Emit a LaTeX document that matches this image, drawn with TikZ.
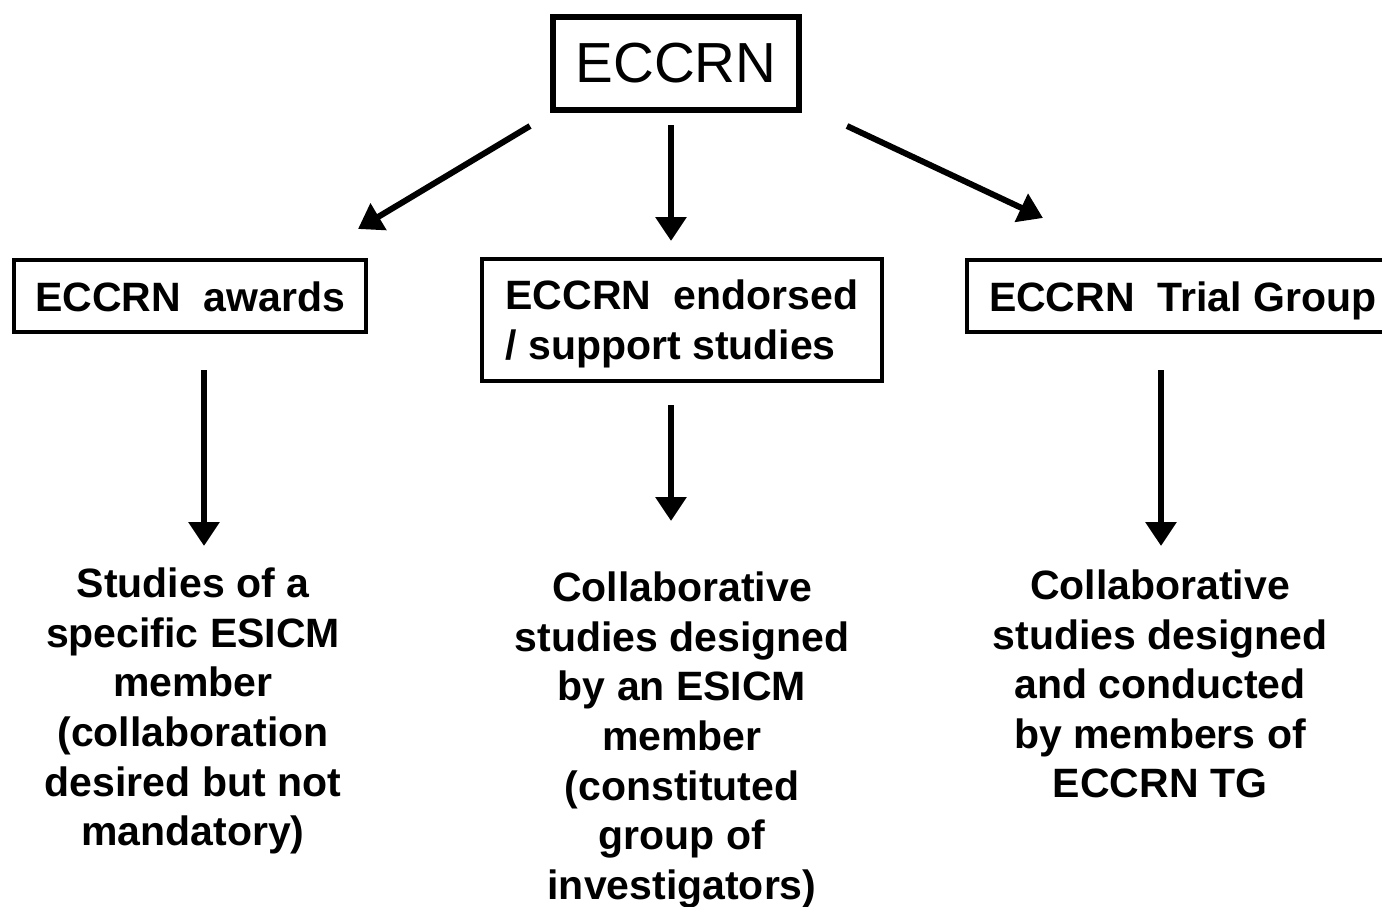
\documentclass[tikz,border=0pt]{standalone}
\usepackage{fontspec}
\setmainfont{Liberation Sans}
\usetikzlibrary{arrows.meta}
\begin{document}
\begin{tikzpicture}[x=1pt,y=-1pt,
  topbox/.style={draw,line width=6pt,minimum width=246pt,minimum height=93pt,inner sep=0pt,font=\fontsize{56.5}{60}\selectfont},
  midbox/.style={draw,line width=4pt,inner ysep=0pt,font=\bfseries\fontsize{41}{50}\selectfont},
  onebox/.style={midbox,minimum height=72pt,text height=30pt,text depth=0pt},
  lowtext/.style={align=center,inner sep=0pt,font=\bfseries\fontsize{41}{49.6}\selectfont},
  arr/.style={line width=6pt,-{Triangle[width=30pt,length=24pt]}}]
\useasboundingbox (0,0) rectangle (1382,907);
\clip (0,0) rectangle (1382,907);
\fill[white] (0,0) rectangle (1382,907);
\node[topbox] (top) at (676,63.5) {ECCRN};
\node[onebox,minimum width=352pt,inner xsep=21pt] (awards) at (190,296) {ECCRN\ \ awards};
\node[midbox,minimum width=400pt,minimum height=122pt,align=left] (endorsed) at (682,320) {\rule{0pt}{38pt}ECCRN\ \ endorsed\\/ support studies};
\node[onebox,inner xsep=22pt,anchor=west] (trial) at (965,296) {ECCRN\ \ Trial Group};
\node[lowtext] (ltext) at (193,711) {Studies of a\\specific ESICM\\member\\(collaboration\\desired but not\\mandatory)};
\node[lowtext] (mtext) at (682,740) {Collaborative\\studies designed\\by an ESICM\\member\\(constituted\\group of\\investigators)};
\node[lowtext] (rtext) at (1160,684) {Collaborative\\studies designed\\and conducted\\by members of\\ECCRN TG};
\coordinate (a1s) at (530,126);
\coordinate (a1e) at (358,229);
\coordinate (a2s) at (671,125);
\coordinate (a2e) at (671,241);
\coordinate (a3s) at (847,126);
\coordinate (a3e) at (1043,218);
\coordinate (b1s) at (204,370);
\coordinate (b1e) at (204,546);
\coordinate (b2s) at (671,405);
\coordinate (b2e) at (671,521);
\coordinate (b3s) at (1161,370);
\coordinate (b3e) at (1161,546);
\draw[arr] (a1s) -- (a1e);
\draw[arr] (a2s) -- (a2e);
\draw[arr] (a3s) -- (a3e);
\draw[arr] (b1s) -- (b1e);
\draw[arr] (b2s) -- (b2e);
\draw[arr] (b3s) -- (b3e);
\end{tikzpicture}
\end{document}
